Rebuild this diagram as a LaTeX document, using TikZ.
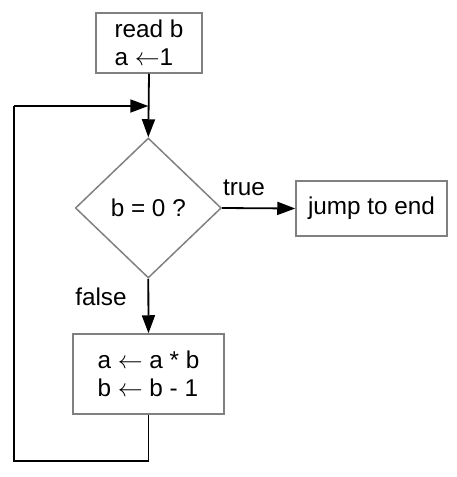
\documentclass[tikz,border=0pt]{standalone}
\usepackage{fontspec}
\setmainfont{Liberation Sans}
\usetikzlibrary{shapes.geometric,arrows.meta}
\begin{document}
\begin{tikzpicture}[x=1pt,y=-1pt,
  box/.style={draw=boxgray,line width=1.5pt,rectangle,inner sep=0pt,align=left,font=\fontsize{24.3}{28}\selectfont},
  dia/.style={draw=boxgray,line width=1.5pt,diamond,aspect=1,inner sep=0pt,font=\fontsize{24.3}{28}\selectfont},
  lbl/.style={inner sep=0pt,font=\fontsize{24.3}{28}\selectfont},
  flow/.style={draw=black,line width=1.8pt,-{Triangle[length=18pt,width=13pt]}},
  plain/.style={draw=black,line width=1.8pt}]
\definecolor{boxgray}{RGB}{128,128,128}
\useasboundingbox (0,0) rectangle (457,477);
\node[box,minimum width=106pt,minimum height=60pt] (read) at (149,43) {read b\\a $\leftarrow$1};
\node[dia,minimum width=146pt,minimum height=140pt] (test) at (148.3,208) {b = 0 ?};
\node[box,minimum width=151pt,minimum height=55pt] (jump) at (371.5,208.5) {jump to end};
\node[box,minimum width=151pt,minimum height=80pt] (body) at (148.5,374) {a $\leftarrow$ a * b\\b $\leftarrow$ b - 1};
\node[lbl,anchor=base] (truelbl) at (244,195) {true};
\node[lbl,anchor=base] (falselbl) at (101,305) {false};
\coordinate (join) at (148.3,106);
\coordinate (bl) at (14,461);
\coordinate (tl) at (14,106);
\draw[flow] (read.south) -- (test.north);
\draw[flow] (test.east) -- (jump.west);
\draw[flow] (test.south) -- (body.north);
\draw[plain] (body.south) -- (body.south |- bl) -- (bl) -- (tl);
\draw[flow] (tl) -- (join);
\end{tikzpicture}
\end{document}
